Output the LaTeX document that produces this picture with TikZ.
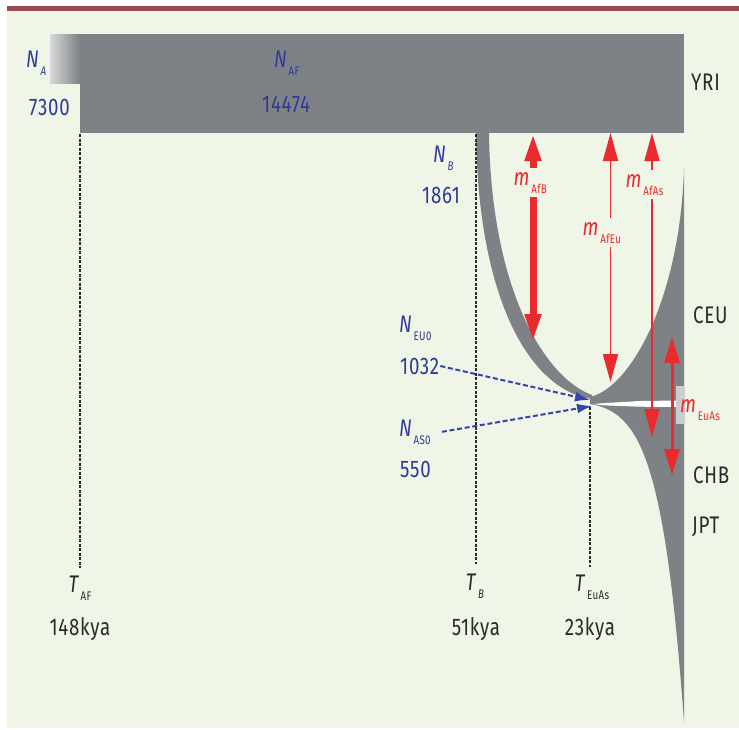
\documentclass[tikz,border=0pt]{standalone}
\usepackage{fontspec}
\setmainfont{Fira Sans}[FakeStretch=0.78,LetterSpace=3]
\usetikzlibrary{arrows.meta}
\definecolor{panel}{HTML}{EFF5E7}
\definecolor{topbar}{HTML}{984850}
\definecolor{popgray}{HTML}{7E8185}
\definecolor{paramblue}{HTML}{2E3B96}
\definecolor{pointblue}{HTML}{3545AA}
\definecolor{migred}{HTML}{EA2A2C}
\definecolor{ink}{HTML}{2A2A2A}
\newcommand\lowsub[1]{\kern1pt\raisebox{-8pt}{\fontsize{12.5}{13}\selectfont #1}}

\begin{document}
\begin{tikzpicture}[x=1pt,y=-1pt,
  every node/.style={font=\fontsize{24}{28}\selectfont,inner sep=1pt},
  param/.style={paramblue,anchor=base west},
  era/.style={ink,anchor=base},
  pop/.style={ink,anchor=base west},
  miglabel/.style={migred,anchor=base west,fill=panel,inner xsep=1.5pt,inner ysep=4pt},
  timeline/.style={ink,line width=1.1pt,dash pattern=on 3pt off 1.5pt},
  flow/.style={migred,{Triangle[length=28pt,width=15pt]}-{Triangle[length=28pt,width=15pt]}},
  pointer/.style={pointblue,line width=2pt,dash pattern=on 5pt off 2.7pt,-{Latex[length=15pt,width=10pt]}}]
 \useasboundingbox (0,0) rectangle (739,729);
 \fill[white] (0,0) rectangle (739,729);
 \fill[topbar] (7,6) rectangle (739,11);
 \fill[panel] (7,11) rectangle (739,728);
 % population blocks
 \fill[popgray] (80,34) rectangle (684,133);
 \shade[left color=popgray!30!white,right color=popgray] (50,34) rectangle (80,83);
 \fill[popgray] (476,133) .. controls (478,300) and (530,390) .. (592,399)
   -- (592,395) .. controls (545,378) and (491,290) .. (489,133) -- cycle;
 \fill[popgray] (590,397) .. controls (630,388) and (680,300) .. (684,168)
   -- (684,404) -- (590,404) -- cycle;
 \fill[popgray] (590,402) -- (684,402) -- (684,722)
   .. controls (665,460) and (640,412) .. (590,404) -- cycle;
 \fill[white] (593,404) -- (603,403.2) -- (640,401) -- (678,400.5)
   -- (678,407) -- (640,406.7) -- (603,405.3) -- cycle;
 \fill[popgray!40!white] (676,386) rectangle (685,424);
 % split times
 \foreach \name/\x/\ya/\yb in {af/80/134/568,b/476/134/564,euas/590/407/567} {
   \coordinate (\name top) at (\x,\ya);
   \coordinate (\name foot) at (\x,\yb);
   \draw[timeline] (\name top) -- (\name foot);
 }
 \node[era] (tAF) at (80,592) {\textit{T}\lowsub{AF}};
 \node[era] (tB) at (475,590) {\textit{T}\lowsub{\textit{B}}};
 \node[era] (tEuAs) at (592,591) {\textit{T}\lowsub{EuAs}};
 \node[era] (kyaAF) at (80,635) {148kya};
 \node[era] (kyaB) at (476,635) {51kya};
 \node[era] (kyaEuAs) at (590,635) {23kya};
 % populations
 \node[pop] (yri) at (690,90) {YRI};
 \node[pop] (ceu) at (692,323) {CEU};
 \node[pop] (chb) at (692,483) {CHB};
 \node[pop] (jpt) at (691,533) {JPT};
 % sizes
 \node[param] (nA) at (25,67) {\textit{N}\lowsub{\textit{A}}};
 \node[param] (valA) at (28,115) {7300};
 \node[param] (nAF) at (273,67) {\textit{N}\lowsub{AF}};
 \node[param] (valAF) at (261,112) {14474};
 \node[param] (nB) at (432,162) {\textit{N}\lowsub{\textit{B}}};
 \node[param] (valB) at (421,203) {1861};
 \node[param] (nEU0) at (398,332) {\textit{N}\lowsub{EU0}};
 \node[param] (valEU0) at (399,374) {1032};
 \node[param] (nAS0) at (398,436) {\textit{N}\lowsub{AS0}};
 \node[param] (valAS0) at (399,477) {550};
 \coordinate (join eu) at (590,400);
 \coordinate (join as) at (592,406);
 \draw[pointer] (valEU0.east) -- (join eu);
 \draw[pointer] ([xshift=10pt]nAS0.east) -- (join as);
 % migration
 \coordinate (afb hi) at (533,133);  \coordinate (afb lo) at (533,342);
 \coordinate (afeu hi) at (610.5,133); \coordinate (afeu lo) at (610.5,382);
 \coordinate (afas hi) at (652,133); \coordinate (afas lo) at (652,437);
 \coordinate (euas hi) at (672,337); \coordinate (euas lo) at (672,475);
 \draw[flow,line width=7pt] (afb hi) -- (afb lo);
 \draw[flow,line width=1.7pt] (afeu hi) -- (afeu lo);
 \draw[flow,line width=1.7pt] (afas hi) -- (afas lo);
 \draw[flow,line width=3pt,{Triangle[length=26pt,width=15pt]}-{Triangle[length=26pt,width=15pt]}] (euas hi) -- (euas lo);
 \node[miglabel] (mAfB) at (512,185) {\textit{m}\lowsub{AfB}};
 \node[miglabel] (mAfEu) at (581,235) {\textit{m}\lowsub{AfEu}};
 \node[miglabel] (mAfAs) at (624,187) {\textit{m}\lowsub{AfAs}};
 \node[migred,anchor=base west] (mEuAs) at (679,412) {\textit{m}\lowsub{EuAs}};
\end{tikzpicture}
\end{document}
